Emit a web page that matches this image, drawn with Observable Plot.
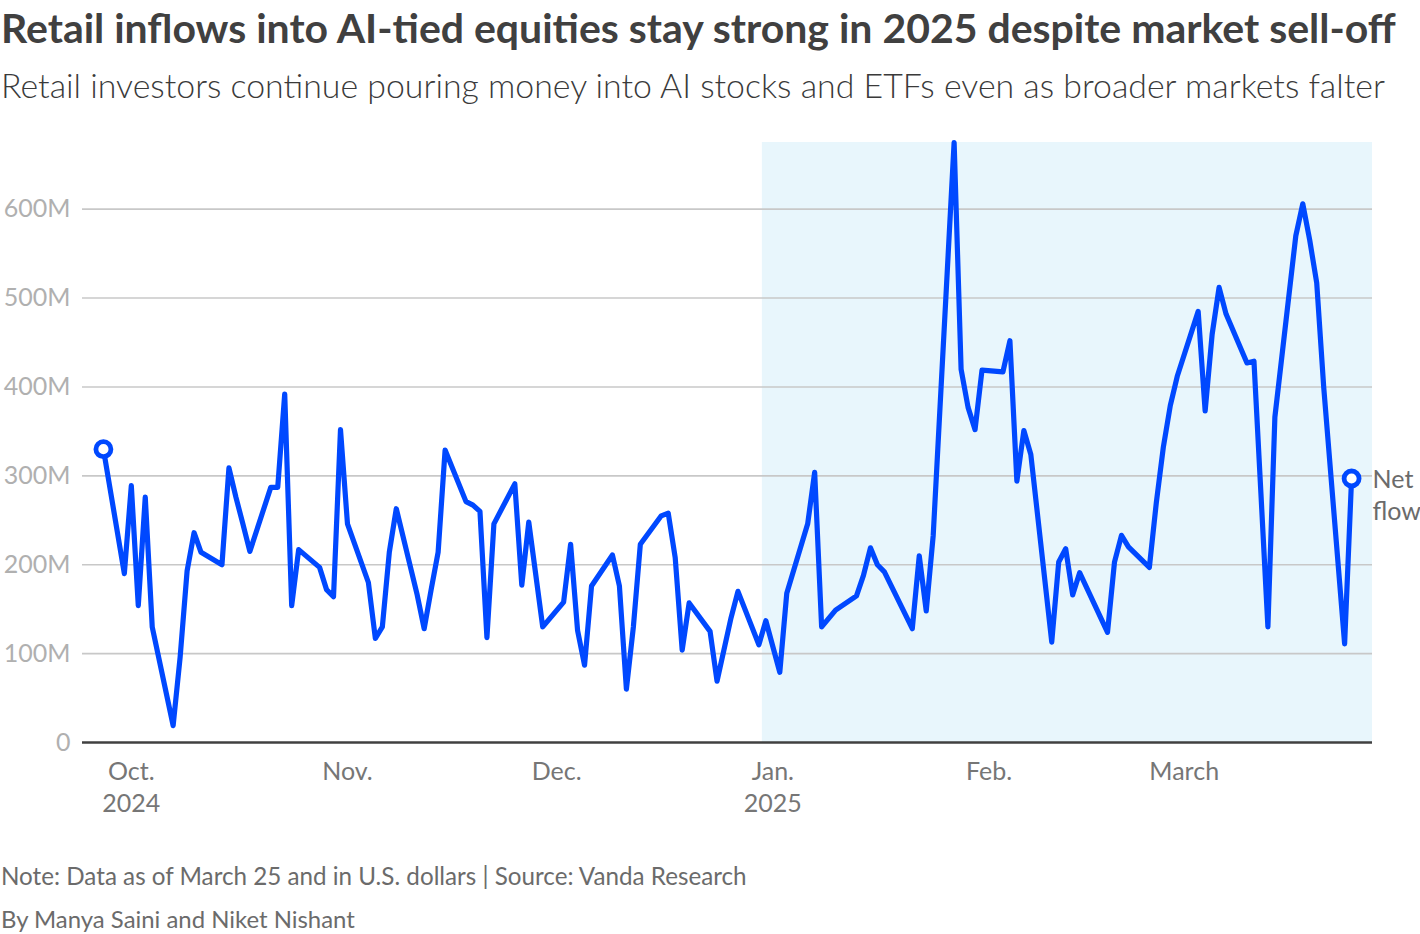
<!DOCTYPE html>
<html>
<head>
<meta charset="utf-8">
<script src="https://cdn.jsdelivr.net/npm/d3@7"></script>
<script src="https://cdn.jsdelivr.net/npm/@observablehq/plot@0.6"></script>
<style>
  html, body { margin: 0; padding: 0; background: #fff; width: 1420px; height: 934px; overflow: hidden; }
  body { position: relative; font-family: Lato, "Noto Sans", sans-serif; }
  .txt { position: absolute; left: 1px; white-space: nowrap; display: inline-block; line-height: 1; }
  #title { font-weight: 700; color: #404040; }
  #subtitle { font-weight: 300; color: #3a3a3a; }
  #note, #byline { font-weight: 400; color: #6b6b6b; }
  #chart { position: absolute; left: 0; top: 120px; }
</style>
</head>
<body>
<div id="title" class="txt">Retail inflows into AI-tied equities stay strong in 2025 despite market sell-off</div>
<div id="subtitle" class="txt">Retail investors continue pouring money into AI stocks and ETFs even as broader markets falter</div>
<div id="chart"></div>
<div id="note" class="txt">Note: Data as of March 25 and in U.S. dollars | Source: Vanda Research</div>
<div id="byline" class="txt">By Manya Saini and Niket Nishant</div>
<script>
// ---- data (net retail flow into AI-tied equities, millions of USD) ----
const dates = [
  "2024-09-27","2024-09-30","2024-10-01","2024-10-02","2024-10-03","2024-10-04",
  "2024-10-07","2024-10-08","2024-10-09","2024-10-10","2024-10-11",
  "2024-10-14","2024-10-15","2024-10-16","2024-10-17","2024-10-18",
  "2024-10-21","2024-10-22","2024-10-23","2024-10-24","2024-10-25",
  "2024-10-28","2024-10-29","2024-10-30","2024-10-31","2024-11-01",
  "2024-11-04","2024-11-05","2024-11-06","2024-11-07","2024-11-08",
  "2024-11-11","2024-11-12","2024-11-13","2024-11-14","2024-11-15",
  "2024-11-18","2024-11-19","2024-11-20","2024-11-21","2024-11-22",
  "2024-11-25","2024-11-26","2024-11-27","2024-11-29",
  "2024-12-02","2024-12-03","2024-12-04","2024-12-05","2024-12-06",
  "2024-12-09","2024-12-10","2024-12-11","2024-12-12","2024-12-13",
  "2024-12-16","2024-12-17","2024-12-18","2024-12-19","2024-12-20",
  "2024-12-23","2024-12-24","2024-12-26","2024-12-27",
  "2024-12-30","2024-12-31","2025-01-02","2025-01-03",
  "2025-01-06","2025-01-07","2025-01-08","2025-01-10",
  "2025-01-13","2025-01-14","2025-01-15","2025-01-16","2025-01-17",
  "2025-01-21","2025-01-22","2025-01-23","2025-01-24",
  "2025-01-27","2025-01-28","2025-01-29","2025-01-30","2025-01-31",
  "2025-02-03","2025-02-04","2025-02-05","2025-02-06","2025-02-07",
  "2025-02-10","2025-02-11","2025-02-12","2025-02-13","2025-02-14",
  "2025-02-18","2025-02-19","2025-02-20","2025-02-21",
  "2025-02-24","2025-02-25","2025-02-26","2025-02-27","2025-02-28",
  "2025-03-03","2025-03-04","2025-03-05","2025-03-06","2025-03-07",
  "2025-03-10","2025-03-11","2025-03-12","2025-03-13","2025-03-14",
  "2025-03-17","2025-03-18","2025-03-19","2025-03-20","2025-03-21",
  "2025-03-24","2025-03-25"
];
const netFlow = [
  330, 190, 289, 154, 276, 130,
  19, 96, 193, 236, 214,
  200, 309, 276, 246, 215,
  287, 287, 392, 154, 217,
  197, 172, 164, 352, 246,
  180, 117, 130, 214, 263,
  166, 128, 172, 214, 329,
  271, 267, 260, 118, 246,
  291, 177, 248, 130,
  158, 223, 126, 87, 176,
  211, 176, 60, 130, 223,
  255, 258, 208, 104, 157,
  125, 69, 140, 170,
  110, 137, 79, 168,
  246, 304, 130, 149,
  165, 188, 219, 200, 192,
  128, 210, 148, 233,
  675, 420, 377, 352, 419,
  417, 452, 294, 351, 324,
  113, 203, 218, 166, 191,
  124, 203, 233, 220,
  197, 270, 332, 379, 412,
  485, 373, 459, 512, 482,
  427, 429, 280, 130, 366,
  570, 606, 565, 517, 400,
  111, 297
];
const yTicks = [0, 100, 200, 300, 400, 500, 600];
const xTickDates = ["2024-10-01","2024-11-01","2024-12-01","2025-01-01","2025-02-01","2025-03-01"];
const xTickLabels = ["Oct.\n2024","Nov.","Dec.","Jan.\n2025","Feb.","March"];
const xDomain = ["2024-09-24","2025-03-28"];
const yDomain = [0, 675];
const highlightStart = "2024-12-30T12:00:00Z";
const seriesLabel = "Net\nflow";

// ---- build ----
const parse = s => new Date(s.length === 10 ? s + "T00:00:00Z" : s);
const data = dates.map((d, i) => ({date: parse(d), value: netFlow[i]}));
const ends = [data[0], data[data.length - 1]];
const tickDates = xTickDates.map(parse);
const labelByTime = new Map(tickDates.map((d, i) => [+d, xTickLabels[i]]));
const xd = xDomain.map(parse);
const shade = [{x1: parse(highlightStart), x2: xd[1], y1: 0, y2: yDomain[1]}];

const BLUE = "#0048ff";
const chart = Plot.plot({
  width: 1420,
  height: 720,
  marginLeft: 82,
  marginRight: 48,
  marginTop: 22,
  marginBottom: 98,
  style: {fontFamily: "Lato, 'Noto Sans', sans-serif", fontSize: "25px", background: "transparent", overflow: "visible"},
  x: {type: "utc", domain: xd},
  y: {domain: yDomain},
  marks: [
    Plot.rect(shade, {x1: "x1", x2: "x2", y1: "y1", y2: "y2", fill: "#e8f6fc"}),
    Plot.ruleY(yTicks.filter(d => d > 0), {stroke: "#c8c8c8", strokeWidth: 1.6}),
    Plot.axisY(yTicks, {tickSize: 0, tickPadding: 12, label: null, fill: "#b0b0b0", fontSize: 25,
      tickFormat: d => d === 0 ? "0" : d + "M"}),
    Plot.axisX(tickDates, {tickSize: 0, tickPadding: 14, label: null, fill: "#767676", fontSize: 25,
      lineHeight: 1.3, tickFormat: d => labelByTime.get(+d)}),
    Plot.ruleY([0], {stroke: "#404040", strokeWidth: 2.5}),
    Plot.lineY(data, {x: "date", y: "value", stroke: BLUE, strokeWidth: 5.2, strokeLinejoin: "round", strokeLinecap: "round"}),
    Plot.dot(ends, {x: "date", y: "value", r: 7.5, fill: "white", stroke: BLUE, strokeWidth: 4.8}),
    Plot.text([ends[1]], {x: "date", y: "value", text: () => seriesLabel, textAnchor: "start", lineAnchor: "top",
      dx: 21, dy: -14, fill: "#6b6b6b", fontSize: 25, lineHeight: 1.3})
  ]
});
document.getElementById("chart").appendChild(chart);

// ---- fit and place header/footer text ----
function place(id, width, baseline) {
  const el = document.getElementById(id);
  el.style.fontSize = "100px";
  const w = el.getBoundingClientRect().width;
  const fs = 100 * width / w;
  el.style.fontSize = fs + "px";
  el.style.top = (baseline - 0.887 * fs) + "px";
}
place("title", 1395, 44);
place("subtitle", 1384, 99);
place("note", 746, 885);
place("byline", 354, 928);
</script>
</body>
</html>
